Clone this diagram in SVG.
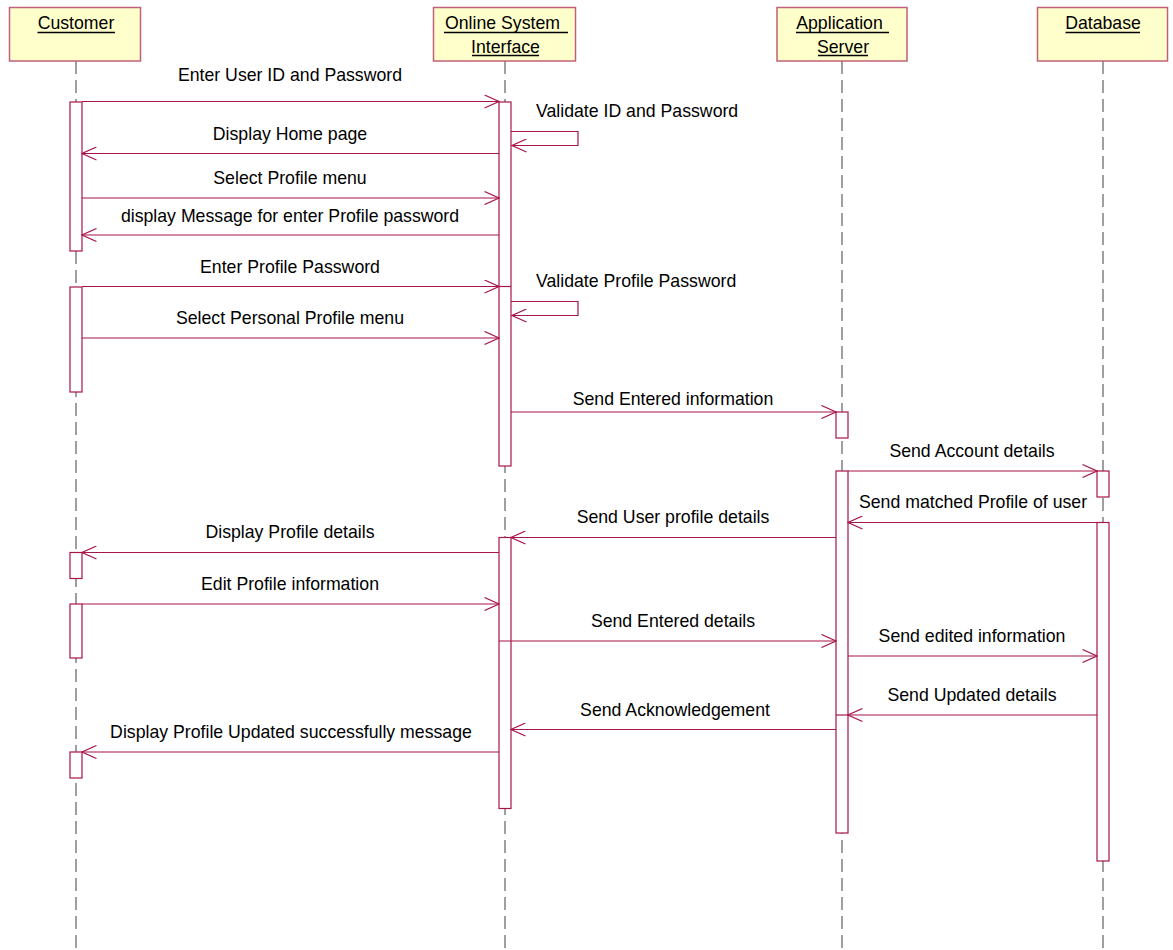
<svg xmlns="http://www.w3.org/2000/svg" width="1173" height="950" viewBox="0 0 1173 950">
<defs>
<style>
.hdr{fill:#FFFFCC;stroke:#C0607A;stroke-width:1.5}
.ll{stroke:#606060;stroke-width:1.2;stroke-dasharray:13 6;fill:none}
.act{fill:#FFFFFF;stroke:#A8154B;stroke-width:1.2}
.msg{stroke:#A8154B;stroke-width:1.2;fill:none;marker-end:url(#arr)}
.ln{stroke:#A8154B;stroke-width:1.2;fill:none}
.t{font-family:"Liberation Sans",Arial,sans-serif;font-size:17.7px;fill:#000}
.c{text-anchor:middle}
.ul{stroke:#000;stroke-width:1.4}
</style>
<marker id="arr" viewBox="0 0 16 14" refX="15" refY="7" markerWidth="16" markerHeight="14" markerUnits="userSpaceOnUse" orient="auto">
<path d="M0.5,0.5 L15,7 L0.5,13.5" fill="none" stroke="#A8154B" stroke-width="1.2"/>
</marker>
</defs>
<rect width="1173" height="950" fill="#FFFFFF"/>

<g id="lifelines">
<line class="ll" x1="76" y1="61" x2="76" y2="950"/>
<line class="ll" x1="505" y1="61" x2="505" y2="950"/>
<line class="ll" x1="842" y1="61" x2="842" y2="950"/>
<line class="ll" x1="1103" y1="61" x2="1103" y2="950"/>
</g>

<g id="customer">
<rect class="hdr" x="9.5" y="7.5" width="131" height="53.5"/>
<text class="t c" x="76" y="29">Customer</text>
<line class="ul" x1="37.5" y1="32.5" x2="115" y2="32.5"/>
<rect class="act" x="70" y="102" width="12" height="149"/>
<rect class="act" x="70" y="287" width="12" height="105"/>
<rect class="act" x="70" y="552.5" width="12" height="26"/>
<rect class="act" x="70" y="604" width="12" height="54"/>
<rect class="act" x="70" y="752" width="12" height="26"/>
</g>

<g id="online-system-interface">
<rect class="hdr" x="433.5" y="7.5" width="142" height="53.5"/>
<text class="t c" x="502.5" y="29">Online System</text>
<line class="ul" x1="444" y1="32.5" x2="568" y2="32.5"/>
<text class="t c" x="505.5" y="52.5">Interface</text>
<line class="ul" x1="472" y1="55.5" x2="539" y2="55.5"/>
<rect class="act" x="499" y="102" width="12" height="364"/>
<rect class="act" x="499" y="537.5" width="12" height="271"/>
</g>

<g id="application-server">
<rect class="hdr" x="777" y="7.5" width="130" height="53.5"/>
<text class="t c" x="839.5" y="29">Application</text>
<line class="ul" x1="796" y1="32.5" x2="889" y2="32.5"/>
<text class="t c" x="843" y="52.5">Server</text>
<line class="ul" x1="818" y1="55.5" x2="868" y2="55.5"/>
<rect class="act" x="836" y="412" width="12" height="26"/>
<rect class="act" x="836" y="471" width="12" height="362"/>
</g>

<g id="database">
<rect class="hdr" x="1037.5" y="7.5" width="130" height="53.5"/>
<text class="t c" x="1103" y="29">Database</text>
<line class="ul" x1="1065.5" y1="32.5" x2="1140" y2="32.5"/>
<rect class="act" x="1097" y="471" width="12" height="26"/>
<rect class="act" x="1097" y="522.5" width="12" height="338.5"/>
</g>

<g id="connectors">
<line class="msg" x1="82" y1="101.5" x2="499" y2="101.5"/>
<path class="msg" d="M511,131.5 H578 V145.5 H512"/>
<line class="msg" x1="499" y1="153.5" x2="82" y2="153.5"/>
<line class="msg" x1="82" y1="198" x2="499" y2="198"/>
<line class="msg" x1="499" y1="235" x2="82" y2="235"/>
<line class="msg" x1="82" y1="286.5" x2="499" y2="286.5"/>
<line class="ln" x1="499" y1="286.5" x2="511" y2="286.5"/>
<path class="msg" d="M511,301.5 H578 V315.5 H512"/>
<line class="msg" x1="82" y1="338" x2="499" y2="338"/>
<line class="msg" x1="511" y1="412" x2="836" y2="412"/>
<line class="msg" x1="848" y1="471" x2="1097" y2="471"/>
<line class="msg" x1="1097" y1="522.5" x2="848" y2="522.5"/>
<line class="msg" x1="836" y1="537.5" x2="511" y2="537.5"/>
<line class="msg" x1="499" y1="552.5" x2="82" y2="552.5"/>
<line class="msg" x1="82" y1="604" x2="499" y2="604"/>
<line class="msg" x1="499" y1="641" x2="836" y2="641"/>
<line class="msg" x1="848" y1="656" x2="1097" y2="656"/>
<line class="msg" x1="1097" y1="715" x2="848" y2="715"/>
<line class="ln" x1="848" y1="715" x2="836" y2="715"/>
<line class="msg" x1="836" y1="729.5" x2="511" y2="729.5"/>
<line class="msg" x1="499" y1="752" x2="82" y2="752"/>
</g>

<g id="labels">
<text class="t c" x="290" y="81">Enter User ID and Password</text>
<text class="t" x="536" y="117">Validate ID and Password</text>
<text class="t c" x="290" y="140">Display Home page</text>
<text class="t c" x="290" y="184">Select Profile menu</text>
<text class="t c" x="290" y="222">display Message for enter Profile password</text>
<text class="t c" x="290" y="273">Enter Profile Password</text>
<text class="t" x="536" y="287">Validate Profile Password</text>
<text class="t c" x="290" y="324">Select Personal Profile menu</text>
<text class="t c" x="673" y="405">Send Entered information</text>
<text class="t c" x="972" y="457">Send Account details</text>
<text class="t c" x="973" y="508">Send matched Profile of user</text>
<text class="t c" x="673" y="523">Send User profile details</text>
<text class="t c" x="290" y="538">Display Profile details</text>
<text class="t c" x="290" y="590">Edit Profile information</text>
<text class="t c" x="673" y="627">Send Entered details</text>
<text class="t c" x="972" y="642">Send edited information</text>
<text class="t c" x="972" y="701">Send Updated details</text>
<text class="t c" x="675" y="716">Send Acknowledgement</text>
<text class="t c" x="291" y="738">Display Profile Updated successfully message</text>
</g>
</svg>
